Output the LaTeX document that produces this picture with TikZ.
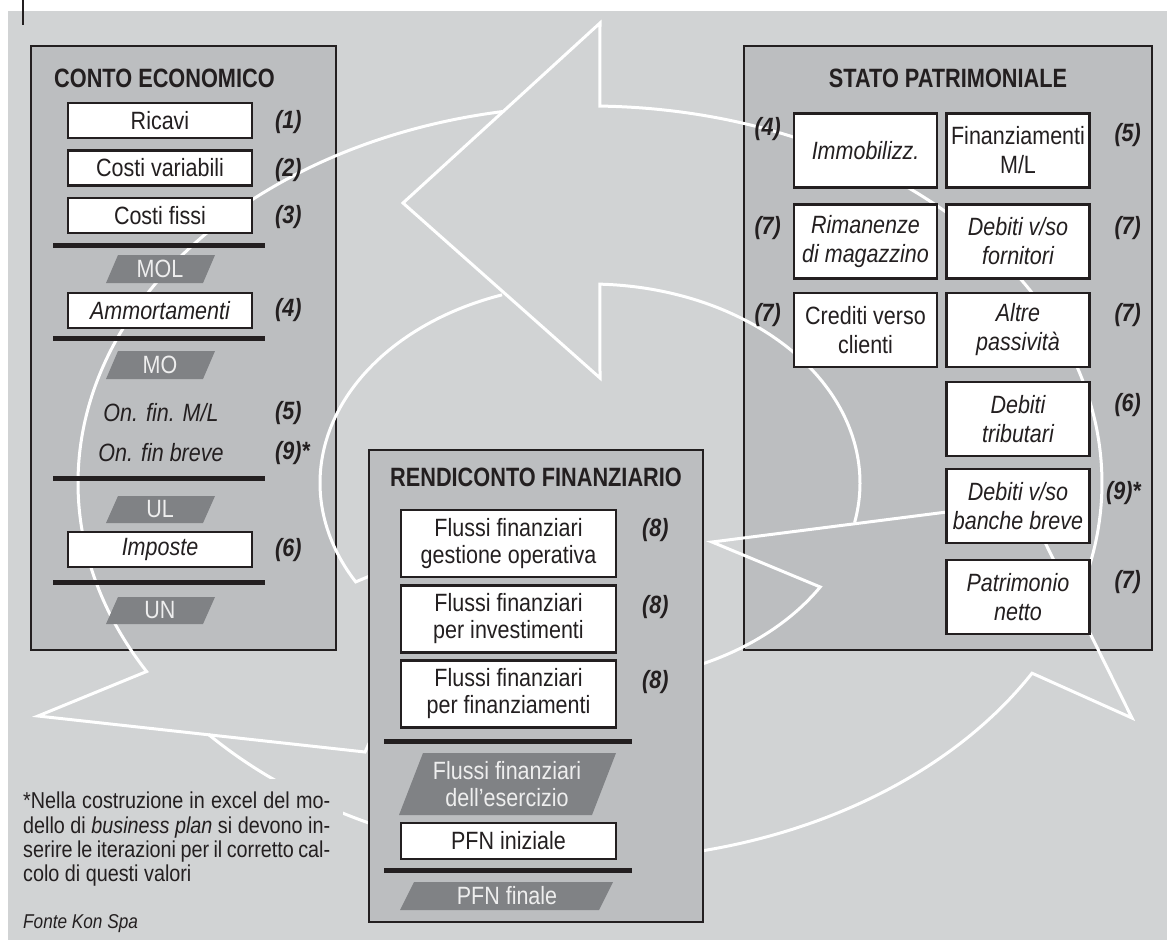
\documentclass[tikz,border=0pt]{standalone}
\usepackage{fontspec}
\setmainfont{Liberation Sans}[FakeStretch=0.86]
\newfontfamily\titlefont{Liberation Sans}[FakeStretch=0.82]
\usetikzlibrary{calc}
\definecolor{bg}{HTML}{D1D3D4}
\definecolor{panel}{HTML}{BCBEC0}
\definecolor{para}{HTML}{808285}
\definecolor{ink}{HTML}{231F20}
\definecolor{paratxt}{HTML}{EEEEEE}
\begin{document}
\begin{tikzpicture}[x=1pt,y=-1pt,
 every node/.style={text=ink},
 panelbox/.style={draw=ink,line width=2pt,fill=panel},
 itembox/.style={draw=ink,line width=2.5pt,fill=white,inner sep=1pt,align=center,font=\fontsize{25}{28}\selectfont},
 cebox/.style={itembox,minimum width=184pt,minimum height=35pt},
 ceboxit/.style={cebox,font=\fontsize{25}{28}\selectfont\itshape},
 spbox/.style={itembox,minimum width=143pt,minimum height=74pt,font=\fontsize{25}{29}\selectfont},
 spboxit/.style={spbox,font=\fontsize{25}{29}\selectfont\itshape},
 rfbox/.style={itembox,minimum width=215pt,minimum height=67pt,font=\fontsize{25}{27}\selectfont},
 pfnbox/.style={itembox,minimum width=215pt,minimum height=36pt},
 numlabel/.style={font=\fontsize{25}{28}\selectfont\bfseries\itshape,inner sep=0pt},
 plaintext/.style={font=\fontsize{25}{28}\selectfont\itshape,inner sep=0pt},
 paneltitle/.style={font=\titlefont\bfseries\fontsize{26.5}{30}\selectfont,inner sep=0pt},
 paralabel/.style={text=paratxt,font=\fontsize{25}{27}\selectfont,inner sep=0pt,align=center},
 rulebar/.style={draw=ink,line width=5pt},
 arrowline/.style={draw=white,line width=3pt,line join=miter},
 foottext/.style={font=\fontsize{23}{24}\selectfont,inner sep=0pt,anchor=base west},
]
\useasboundingbox (0,0) rectangle (1167,940);
% background
\fill[white] (0,0) rectangle (1167,940);
\fill[bg] (8,11) rectangle (1167,940);
\draw[ink,line width=2.5pt] (23,0) -- (23,25);

% panels (under the white arrows)
\draw[panelbox] (31,46) rectangle (336,650);
\draw[panelbox] (744,46) rectangle (1152,650);

% white circular arrows
\coordinate (O) at (590,483);
% arrow A (top, pointing left)
\draw[arrowline] ($(O)+(11.5:270 and 199)$) arc[start angle=11.5,end angle=-87.9,x radius=270,y radius=199]
  -- (600,378) -- (403,203) -- (600,23) -- ($(O)+(-88.9:512 and 377)$)
  arc[start angle=-88.9,end angle=18.5,x radius=512,y radius=377];
% arrow B (bottom right)
\draw[arrowline] ($(O)+(138.2:512 and 377)$) arc[start angle=138.2,end angle=30.3,x radius=512,y radius=377]
  -- (1132,718) -- (1025,502) -- (712,542) -- ($(O)+(31.5:270 and 199)$)
  arc[start angle=31.5,end angle=125,x radius=270,y radius=199];
% arrow C (left)
\draw[arrowline] ($(O)+(251:270 and 199)$) arc[start angle=251,end angle=150.2,x radius=270,y radius=199]
  -- (465,536) -- (365,752) -- (38,716) -- ($(O)+(150:512 and 377)$)
  arc[start angle=150,end angle=260.2,x radius=512,y radius=377];

% CE labels
\node[numlabel,anchor=west] (n1) at (275,122) {(1)};
\node[numlabel,anchor=west] (n2) at (275,170) {(2)};
\node[numlabel,anchor=west] (n3) at (275,217) {(3)};
\node[numlabel,anchor=west] (n4) at (275,310) {(4)};
\node[numlabel,anchor=west] (n5) at (275,413) {(5)};
\node[numlabel,anchor=west] (n9) at (275,453) {(9)*};
\node[numlabel,anchor=west] (n6) at (275,550) {(6)};
\node[plaintext] (onfml) at (161,413) {On. fin. M/L};
\node[plaintext] (onfbr) at (161,453) {On. fin breve};

% SP labels
\node[numlabel,anchor=east] (s4) at (781,129) {(4)};
\node[numlabel,anchor=east] (s7a) at (781,228) {(7)};
\node[numlabel,anchor=east] (s7b) at (781,315) {(7)};
\node[numlabel,anchor=east] (s5) at (1141,135) {(5)};
\node[numlabel,anchor=east] (s7c) at (1141,228) {(7)};
\node[numlabel,anchor=east] (s7d) at (1141,315) {(7)};
\node[numlabel,anchor=east] (s6) at (1141,405) {(6)};
\node[numlabel,anchor=east] (s9) at (1141,493) {(9)*};
\node[numlabel,anchor=east] (s7e) at (1141,582) {(7)};

% CE rules and result parallelograms
\draw[rulebar] (53,245) -- (265,245);
\draw[rulebar] (53,338) -- (265,338);
\draw[rulebar] (53,478) -- (265,478);
\draw[rulebar] (53,582) -- (265,582);
\fill[para] (106,283) -- (118,255) -- (215,255) -- (203,283) -- cycle;
\node[paralabel] (mol) at (160,269) {MOL};
\fill[para] (106,379) -- (118,351) -- (215,351) -- (203,379) -- cycle;
\node[paralabel] (mo) at (160,365) {MO};
\fill[para] (106,523) -- (118,496) -- (215,496) -- (203,523) -- cycle;
\node[paralabel] (ul) at (160,509.5) {UL};
\fill[para] (106,624) -- (118,597) -- (215,597) -- (203,624) -- cycle;
\node[paralabel] (un) at (160,610.5) {UN};

% CE boxes
\node[paneltitle,anchor=west] (cetitle) at (54,78) {CONTO ECONOMICO};
\node[cebox] (ricavi) at (160,120.5) {Ricavi};
\node[cebox] (cvar) at (160,168) {Costi variabili};
\node[cebox] (cfix) at (160,215.5) {Costi fissi};
\node[ceboxit] (amm) at (160,310.5) {Ammortamenti};
\node[ceboxit] (imp) at (160,549.5) {Imposte};

% SP boxes
\node[paneltitle] (sptitle) at (948,78) {STATO PATRIMONIALE};
\node[spboxit] (immob) at (865.5,150.5) {Immobilizz.};
\node[spbox] (finml) at (1018,150.5) {Finanziamenti\\M/L};
\node[spboxit] (riman) at (865.5,241.5) {Rimanenze\\di magazzino};
\node[spboxit] (debforn) at (1018,241.5) {Debiti v/so\\fornitori};
\node[spbox] (cred) at (865.5,330) {Crediti verso\\clienti};
\node[spboxit] (altre) at (1018,330) {Altre\\passivit\`a};
\node[spboxit] (debtrib) at (1018,419) {Debiti\\tributari};
\node[spboxit] (debban) at (1018,506) {Debiti v/so\\banche breve};
\node[spboxit] (patr) at (1018,597) {Patrimonio\\netto};

% RF panel (over the arrows)
\draw[panelbox] (369,450) rectangle (703,922);
\node[paneltitle] (rftitle) at (536,477) {RENDICONTO FINANZIARIO};
\node[rfbox] (ffgo) at (508.5,543.5) {Flussi finanziari\\gestione operativa};
\node[rfbox] (ffinv) at (508.5,619) {Flussi finanziari\\per investimenti};
\node[rfbox] (fffin) at (508.5,694) {Flussi finanziari\\per finanziamenti};
\node[numlabel,anchor=west] (r8a) at (642,530) {(8)};
\node[numlabel,anchor=west] (r8b) at (642,607) {(8)};
\node[numlabel,anchor=west] (r8c) at (642,682) {(8)};
\draw[rulebar] (384,741) -- (632,741);
\fill[para] (399,815) -- (423,753) -- (616,753) -- (592,815) -- cycle;
\node[paralabel] (ffes) at (507,784) {Flussi finanziari\\dell'esercizio};
\node[pfnbox] (pfnin) at (508.5,841) {PFN iniziale};
\draw[rulebar] (384,870) -- (632,870);
\fill[para] (400,910) -- (414,882) -- (613,882) -- (599,910) -- cycle;
\node[paralabel] (pfnfin) at (507,896) {PFN finale};

% footnote
\fill[bg] (12,779) rectangle (343,938);
\node[foottext] (fn1) at (23,808) {\makebox[307pt][s]{*Nella costruzione in excel del mo-}};
\node[foottext] (fn2) at (23,833) {\makebox[307pt][s]{dello di \textit{business plan} si devono in-}};
\node[foottext] (fn3) at (23,857) {\makebox[307pt][s]{serire le iterazioni per il corretto cal-}};
\node[foottext] (fn4) at (23,881) {colo di questi valori};
\node[foottext,font=\fontsize{20}{24}\selectfont\itshape] (fonte) at (23,928) {Fonte Kon Spa};
\end{tikzpicture}
\end{document}
